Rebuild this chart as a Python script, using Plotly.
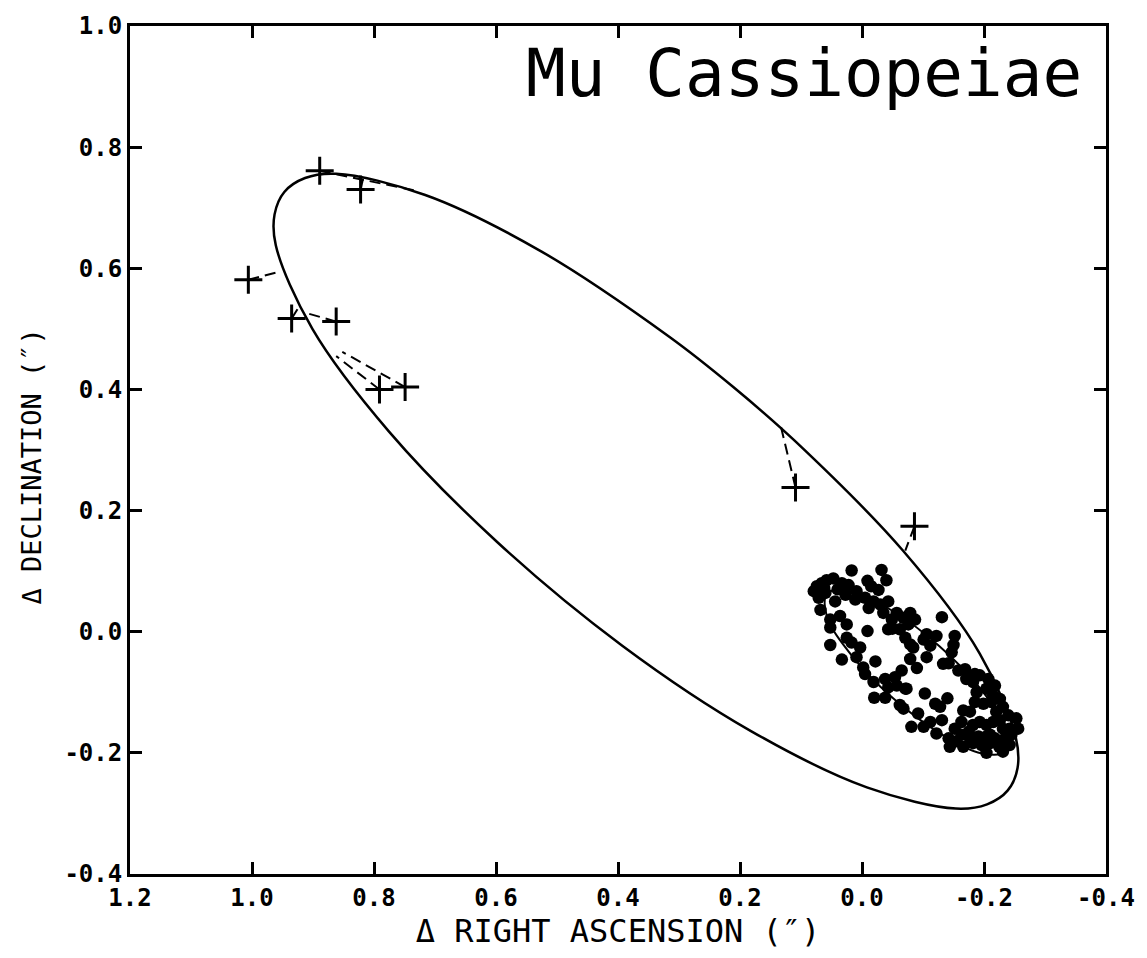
import plotly.graph_objects as go

# ---- data (arcsec) ----
# apparent orbit (large ellipse)
orbit_ra = [0.211, 0.316, 0.526, 0.716, 0.862, 0.913, 0.947, 0.963, 0.961, 0.901, 0.775, 0.599,
            0.393, 0.182, -0.008, -0.154, -0.205, -0.239, -0.255, -0.252, -0.193, -0.067, 0.110, 0.211]
orbit_dec = [0.404, 0.487, 0.628, 0.721, 0.756, 0.749, 0.726, 0.689, 0.638, 0.500, 0.330, 0.149,
             -0.023, -0.164, -0.257, -0.292, -0.285, -0.262, -0.225, -0.174, -0.036, 0.134, 0.315, 0.404]

# photocentric orbit (small ellipse)
photo_ra = [-0.127, -0.049, 0.019, 0.057, 0.057, 0.017, -0.051, -0.130, -0.197, -0.236, -0.235, -0.195, -0.127]
photo_dec = [-0.024, 0.035, 0.067, 0.063, 0.024, -0.039, -0.110, -0.169, -0.201, -0.197, -0.158, -0.095, -0.024]

# measured positions (+) and their predicted positions on the orbit
obs_ra = [0.889, 0.822, 1.006, 0.935, 0.862, 0.791, 0.749, 0.109, -0.086]
obs_dec = [0.761, 0.730, 0.581, 0.517, 0.512, 0.400, 0.404, 0.238, 0.174]
pred_ra = [0.731, 0.818, 0.952, 0.922, 0.914, 0.862, 0.852, 0.133, -0.071]
pred_dec = [0.728, 0.748, 0.595, 0.538, 0.527, 0.455, 0.462, 0.339, 0.134]

# photocentre measurements (filled dots)
dot_ra = [0.017, -0.032, -0.040, -0.009, 0.079, 0.066, 0.058, 0.047, 0.033, 0.022, 0.009, 0.071,
          0.060, 0.044, 0.027, 0.011, -0.005, -0.027, -0.019, -0.011, -0.030, -0.043, -0.035, -0.049,
          -0.057, -0.068, -0.076, 0.068, 0.052, 0.052, 0.036, 0.025, -0.009, -0.043, -0.062, -0.071,
          0.025, 0.017, 0.052, 0.003, 0.033, 0.009, -0.002, -0.022, -0.065, -0.079, -0.079,
          -0.005, -0.019, -0.038, -0.054, -0.043, -0.057, -0.071, -0.020, -0.038, -0.062, -0.068, -0.081,
          -0.079, -0.087, -0.131, -0.106, -0.122, -0.152, -0.101, -0.084, -0.112, -0.150, -0.147,
          -0.106, -0.133, -0.142, -0.158, -0.169, -0.185,
          -0.073, -0.103, -0.120, -0.128, -0.092, -0.101, -0.112, -0.131, -0.122, -0.142, -0.152,
          -0.163, -0.166, -0.171, -0.182, -0.193, -0.207, -0.188, -0.204, -0.218, -0.185, -0.199,
          -0.212, -0.226, -0.231, -0.220, -0.177, -0.182, -0.193, -0.204, -0.215, -0.226, -0.240,
          -0.253, -0.256, -0.242, -0.231, -0.163, -0.177, -0.191, -0.204, -0.218, -0.231, -0.237,
          -0.166, -0.182, -0.196, -0.210, -0.204, -0.231, -0.242, -0.144, -0.155,
          0.074, 0.062, 0.040, -0.015, -0.050, -0.090, -0.140, -0.175, -0.210, -0.225, -0.245, -0.215]
dot_dec = [0.101, 0.102, 0.085, 0.084, 0.067, 0.080, 0.085, 0.088, 0.080, 0.077, 0.067, 0.056,
           0.064, 0.050, 0.061, 0.053, 0.056, 0.069, 0.050, 0.039, 0.045, 0.050, 0.031, 0.020,
           0.031, 0.023, 0.012, 0.036, 0.020, 0.007, 0.026, 0.012, 0.001, 0.004, 0.004, -0.010,
           -0.010, -0.018, -0.022, -0.026, -0.046, -0.042, -0.059, -0.049, -0.064, -0.045, -0.021,
           -0.070, -0.083, -0.078, -0.075, -0.092, -0.089, -0.094, -0.109, -0.109, -0.121, -0.127, -0.157,
           0.031, 0.020, 0.024, -0.004, -0.007, -0.007, -0.013, -0.026, -0.023, -0.022, -0.034,
           -0.042, -0.053, -0.052, -0.064, -0.062, -0.070,
           -0.094, -0.102, -0.119, -0.124, -0.135, -0.157, -0.149, -0.146, -0.168, -0.176, -0.160,
           -0.149, -0.130, -0.078, -0.083, -0.072, -0.078, -0.100, -0.094, -0.089, -0.116, -0.119,
           -0.116, -0.111, -0.124, -0.132, -0.132, -0.154, -0.149, -0.154, -0.149, -0.146, -0.138,
           -0.143, -0.160, -0.160, -0.160, -0.170, -0.176, -0.173, -0.173, -0.176, -0.179, -0.168,
           -0.190, -0.184, -0.187, -0.184, -0.200, -0.198, -0.187, -0.190, -0.181,
           0.075, 0.072, 0.070, 0.075, 0.005, -0.060, -0.110, -0.165, -0.170, -0.190, -0.170, -0.105]

x_ticks = [1.2, 1.0, 0.8, 0.6, 0.4, 0.2, 0.0, -0.2, -0.4]
x_labels = ["1.2", "1.0", "0.8", "0.6", "0.4", "0.2", "0.0", "-0.2", "-0.4"]
y_ticks = [1.0, 0.8, 0.6, 0.4, 0.2, 0.0, -0.2, -0.4]
y_labels = ["1.0", "0.8", "0.6", "0.4", "0.2", "0.0", "-0.2", "-0.4"]

# residual segments
res_x, res_y = [], []
for ox, oy, px, py in zip(obs_ra, obs_dec, pred_ra, pred_dec):
    res_x += [ox, px, None]
    res_y += [oy, py, None]

fig = go.Figure()
fig.add_trace(go.Scatter(x=orbit_ra, y=orbit_dec, mode="lines",
                         line=dict(color="black", width=2.5, shape="spline", smoothing=1.0),
                         hoverinfo="skip"))
fig.add_trace(go.Scatter(x=photo_ra, y=photo_dec, mode="lines",
                         line=dict(color="black", width=2, shape="spline", smoothing=1.0),
                         hoverinfo="skip"))
fig.add_trace(go.Scatter(x=res_x, y=res_y, mode="lines",
                         line=dict(color="black", width=2, dash="11px,6px"),
                         hoverinfo="skip"))
fig.add_trace(go.Scatter(x=obs_ra, y=obs_dec, mode="markers",
                         marker=dict(symbol="cross-thin", size=20, line=dict(color="black", width=3))))
fig.add_trace(go.Scatter(x=dot_ra, y=dot_dec, mode="markers",
                         marker=dict(symbol="circle", size=12.5, color="black", line=dict(width=0))))

tickfont = dict(family="DejaVu Sans Mono", size=24, color="black", weight="bold")

fig.update_layout(
    width=1147, height=958,
    margin=dict(l=130, r=39, t=17, b=84),
    paper_bgcolor="white", plot_bgcolor="white",
    showlegend=False,
    xaxis=dict(range=[1.2, -0.4], tickvals=x_ticks, ticktext=x_labels,
               ticks="inside", ticklen=12, tickwidth=2.5, tickcolor="black",
               showline=True, linewidth=3, linecolor="black", mirror="ticks",
               showgrid=False, zeroline=False, tickfont=tickfont,
               title=dict(text="Δ RIGHT ASCENSION (″)", standoff=0,
                          font=dict(family="DejaVu Sans Mono", size=32, color="black"))),
    yaxis=dict(range=[-0.4, 1.0], tickvals=y_ticks, ticktext=y_labels,
               ticks="inside", ticklen=12, tickwidth=2.5, tickcolor="black",
               showline=True, linewidth=3, linecolor="black", mirror="ticks",
               showgrid=False, zeroline=False, tickfont=tickfont),
)

fig.add_annotation(text="Δ DECLINATION (″)", xref="paper", yref="paper",
                   x=-0.101, y=0.481, xanchor="center", yanchor="middle", textangle=-90,
                   showarrow=False, font=dict(family="DejaVu Sans Mono", size=27, color="black"))

fig.add_annotation(text="Mu Cassiopeiae", xref="paper", yref="paper",
                   x=0.977, y=0.944, xanchor="right", yanchor="middle", showarrow=False,
                   font=dict(family="DejaVu Sans Mono", size=66, color="black"))

fig.write_html("out.html")
